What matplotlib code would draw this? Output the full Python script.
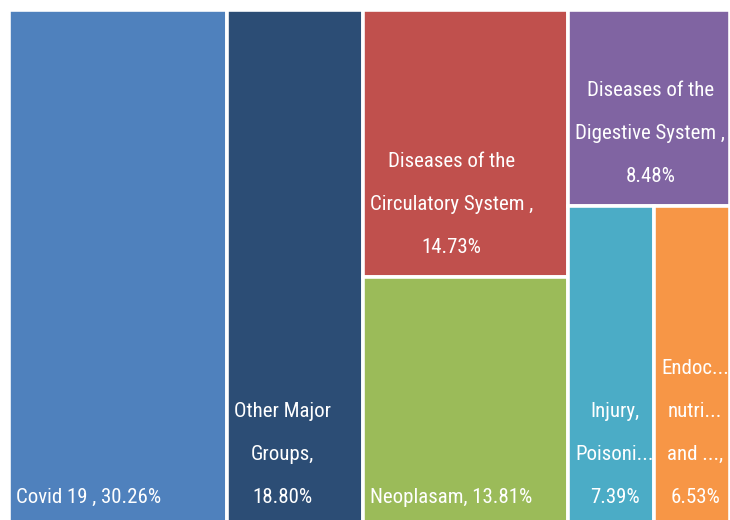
import matplotlib
matplotlib.use("Agg")
import matplotlib.pyplot as plt
from matplotlib import font_manager
from matplotlib.patches import Rectangle

# Data
labels = [
    "Covid 19 , 30.26%",
    "Other Major\nGroups,\n18.80%",
    "Diseases of the\nCirculatory System ,\n14.73%",
    "Neoplasam, 13.81%",
    "Diseases of the\nDigestive System ,\n8.48%",
    "Injury,\nPoisoni...\n7.39%",
    "Endoc...\nnutri...\nand ...,\n6.53%",
]
values = [30.26, 18.80, 14.73, 13.81, 8.48, 7.39, 6.53]
colors = ["#4F81BD", "#2C4D75", "#C0504D", "#9BBB59", "#8064A2", "#4BACC6", "#F79646"]

# nesting of the treemap: 'h' splits left-to-right, 'v' splits top-to-bottom
LAYOUT = ("h", [0, 1, ("v", [2, 3]), ("v", [4, ("h", [5, 6])])])

# pick a narrow font if there is one
FONT = "DejaVu Sans"
for name in ["Roboto Condensed", "Liberation Sans Narrow", "Open Sans Condensed"]:
    try:
        font_manager.findfont(name, fallback_to_default=False)
        FONT = name
        break
    except Exception:
        pass


def total(node):
    if isinstance(node, int):
        return values[node]
    return sum(total(c) for c in node[1])


def place(node, x, y, w, h, out):
    if isinstance(node, int):
        out[node] = (x, y, w, h)
        return
    direction, children = node
    s = total(node)
    for c in children:
        frac = total(c) / s
        if direction == "h":
            place(c, x, y, w * frac, h, out)
            x += w * frac
        else:
            place(c, x, y, w, h * frac, out)
            y += h * frac


fig = plt.figure(figsize=(7.3, 5.2), dpi=100)
ax = fig.add_axes([0, 0, 1, 1])
ax.set_xlim(0, 730)
ax.set_ylim(520, 0)
ax.axis("off")

rects = {}
place(LAYOUT, 9, 10, 721, 517, rects)

for i, (x, y, w, h) in rects.items():
    ax.add_patch(Rectangle((x, y), w, h, facecolor=colors[i],
                           edgecolor="white", linewidth=2.6))
    ax.text(x + 7, y + h - 24, labels[i], color="white", fontsize=15,
            family=[FONT, "DejaVu Sans"], ha="left", va="baseline",
            multialignment="center", linespacing=2.6, clip_on=True)

fig.savefig("out.png", dpi=100)
